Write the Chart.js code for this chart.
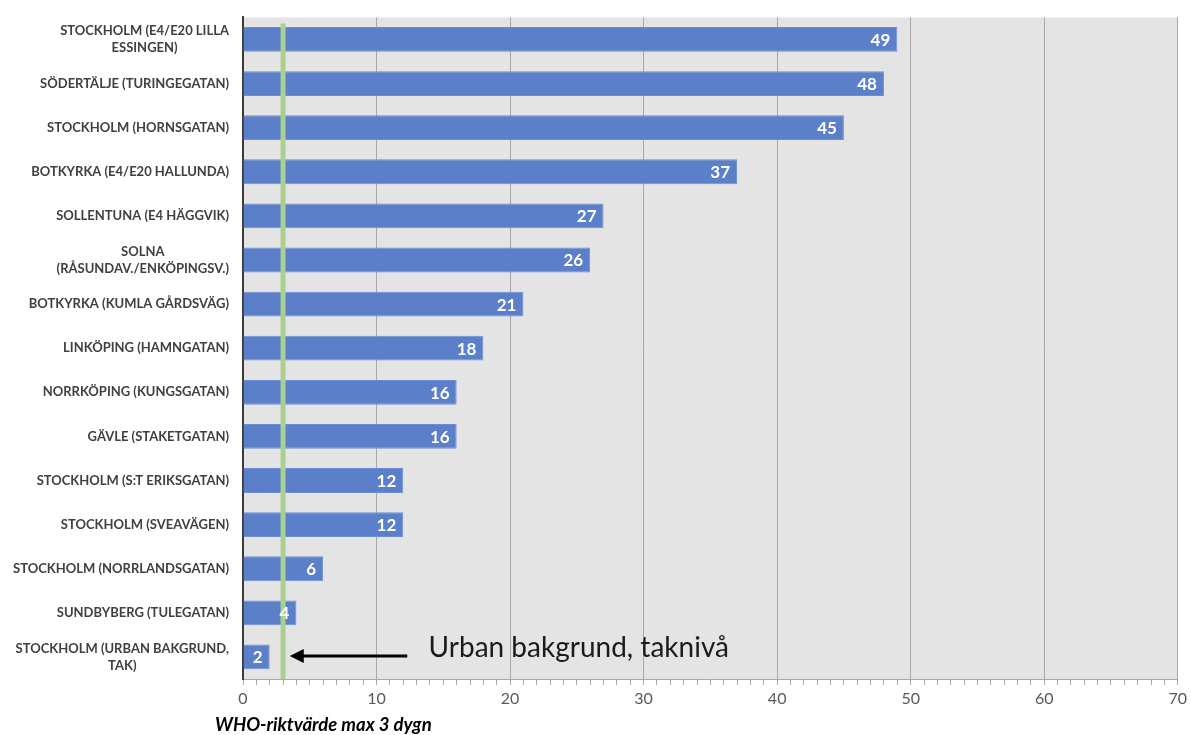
<!DOCTYPE html>
<html lang="sv">
<head>
<meta charset="UTF-8">
<title>Antal dygn över WHO-riktvärde</title>
<script src="https://cdn.jsdelivr.net/npm/chart.js"></script>
<style>
    html, body { margin: 0; padding: 0; background: #fff; }
    #wrap { width: 1191px; height: 735px; position: relative; }
</style>
</head>
<body>
<div id="wrap"><canvas id="chart"></canvas></div>
<script>
// data
const stations = [
    ['STOCKHOLM (E4/E20 LILLA', 'ESSINGEN)'],
    'SÖDERTÄLJE (TURINGEGATAN)',
    'STOCKHOLM (HORNSGATAN)',
    'BOTKYRKA (E4/E20 HALLUNDA)',
    'SOLLENTUNA (E4 HÄGGVIK)',
    ['SOLNA', '(RÅSUNDAV./ENKÖPINGSV.)'],
    'BOTKYRKA (KUMLA GÅRDSVÄG)',
    'LINKÖPING (HAMNGATAN)',
    'NORRKÖPING (KUNGSGATAN)',
    'GÄVLE (STAKETGATAN)',
    'STOCKHOLM (S:T ERIKSGATAN)',
    'STOCKHOLM (SVEAVÄGEN)',
    'STOCKHOLM (NORRLANDSGATAN)',
    'SUNDBYBERG (TULEGATAN)',
    ['STOCKHOLM (URBAN BAKGRUND,', 'TAK)']
];
const days = [49, 48, 45, 37, 27, 26, 21, 18, 16, 16, 12, 12, 6, 4, 2];
const whoLimit = 3;
const xTicks = [0, 10, 20, 30, 40, 50, 60, 70];
const noteText = 'Urban bakgrund, taknivå';
const axisTitle = 'WHO-riktvärde max 3 dygn';

const FONT = 'Lato, "Open Sans", sans-serif';

// grey plot background (starts a bit above the chart area like the original)
const plotBg = {
    id: 'plotBg',
    beforeDraw(chart) {
        const a = chart.chartArea, ctx = chart.ctx;
        ctx.save();
        ctx.fillStyle = '#e4e4e4';
        ctx.fillRect(a.left, a.top, a.right - a.left, a.bottom - a.top);
        ctx.restore();
    }
};

// green WHO limit line, over the bars but under the value labels
const limitLine = {
    id: 'limitLine',
    afterDatasetsDraw(chart) {
        const ctx = chart.ctx, a = chart.chartArea;
        const gx = chart.scales.x.getPixelForValue(whoLimit);
        ctx.save();
        ctx.strokeStyle = '#a9d08e';
        ctx.lineWidth = 5;
        ctx.beginPath();
        ctx.moveTo(gx, a.top + 6);
        ctx.lineTo(gx, a.bottom);
        ctx.stroke();
        ctx.restore();
    }
};

// value labels inside bar end
const valueLabels = {
    id: 'valueLabels',
    afterDatasetsDraw(chart) {
        const ctx = chart.ctx;
        const meta = chart.getDatasetMeta(0);
        ctx.save();
        ctx.font = 'bold 17px ' + FONT;
        ctx.fillStyle = '#ffffff';
        ctx.textAlign = 'right';
        ctx.textBaseline = 'middle';
        meta.data.forEach((bar, i) => {
            ctx.fillText(String(days[i]), bar.x - 7, bar.y + 1);
        });
        ctx.restore();
    }
};

// category labels: lines centred in a right-aligned block
const catLabels = {
    id: 'catLabels',
    afterDraw(chart) {
        const ctx = chart.ctx, y = chart.scales.y;
        const right = chart.chartArea.left - 14;
        ctx.save();
        ctx.font = 'bold 13px ' + FONT;
        ctx.fillStyle = '#404040';
        ctx.textBaseline = 'middle';
        ctx.textAlign = 'center';
        stations.forEach((lab, i) => {
            const lines = Array.isArray(lab) ? lab : [lab];
            const w = Math.max(...lines.map(l => ctx.measureText(l).width));
            const cx = right - w / 2;
            const cy = y.getPixelForValue(i);
            const lh = 17;
            lines.forEach((l, k) => {
                ctx.fillText(l, cx, cy + (k - (lines.length - 1) / 2) * lh);
            });
        });
        ctx.restore();
    }
};

// arrow, note and axis title
const overlay = {
    id: 'overlay',
    afterDraw(chart) {
        const ctx = chart.ctx, a = chart.chartArea;
        const x = chart.scales.x, y = chart.scales.y;
        ctx.save();
        const ay = y.getPixelForValue(stations.length - 1) - 1;
        const x0 = x.getPixelForValue(12.3), x1 = x.getPixelForValue(3.5);
        ctx.strokeStyle = '#000';
        ctx.fillStyle = '#000';
        ctx.lineWidth = 3;
        ctx.beginPath();
        ctx.moveTo(x0, ay);
        ctx.lineTo(x1 + 12, ay);
        ctx.stroke();
        ctx.beginPath();
        ctx.moveTo(x1, ay);
        ctx.lineTo(x1 + 14, ay - 7);
        ctx.lineTo(x1 + 14, ay + 7);
        ctx.closePath();
        ctx.fill();

        ctx.font = '28px ' + FONT;
        ctx.fillStyle = '#1a1a1a';
        ctx.textAlign = 'left';
        ctx.textBaseline = 'middle';
        ctx.fillText(noteText, x.getPixelForValue(13.9), ay - 8);

        ctx.font = 'italic bold 18.5px ' + FONT;
        ctx.fillStyle = '#000';
        ctx.fillText(axisTitle, a.left - 28, 725);
        ctx.restore();
    }
};

new Chart(document.getElementById('chart'), {
    type: 'bar',
    data: {
        labels: stations,
        datasets: [{
            data: days,
            backgroundColor: '#5b80c9',
            borderColor: '#6b8ed2',
            borderWidth: 1,
            barPercentage: 0.76,
            categoryPercentage: 0.74
        }]
    },
    options: {
        indexAxis: 'y',
        responsive: true,
        maintainAspectRatio: false,
        animation: false,
        layout: { padding: { top: 10, right: 10, left: 0, bottom: 0 } },
        plugins: {
            legend: { display: false },
            tooltip: { enabled: false }
        },
        scales: {
            x: {
                min: 0,
                max: 70,
                afterBuildTicks(scale) {
                    const t = [];
                    for (let v = 0; v <= 70; v++) t.push({ value: v });
                    scale.ticks = t;
                },
                ticks: {
                    autoSkip: false,
                    maxRotation: 0,
                    color: '#595959',
                    font: { family: FONT, size: 16 },
                    padding: 4,
                    callback: v => xTicks.includes(v) ? String(v) : ''
                },
                grid: {
                    color: ctx => (ctx.tick && ctx.tick.value % 10 === 0 && ctx.tick.value > 0) ? '#a8a8a8' : 'rgba(0,0,0,0)',
                    tickColor: '#a8a8a8',
                    tickLength: 6,
                    lineWidth: 1
                },
                border: { display: true, color: '#a8a8a8', width: 1 },
                afterFit(scale) { scale.height = 56; }
            },
            y: {
                ticks: { color: 'rgba(0,0,0,0)', font: { size: 12 } },
                grid: { display: true, color: 'rgba(0,0,0,0)', drawTicks: false },
                border: { display: true, color: '#3a3a3a', width: 2 },
                afterFit(scale) { scale.width = 243; }
            }
        }
    },
    plugins: [plotBg, limitLine, valueLabels, catLabels, overlay]
});
</script>
</body>
</html>
